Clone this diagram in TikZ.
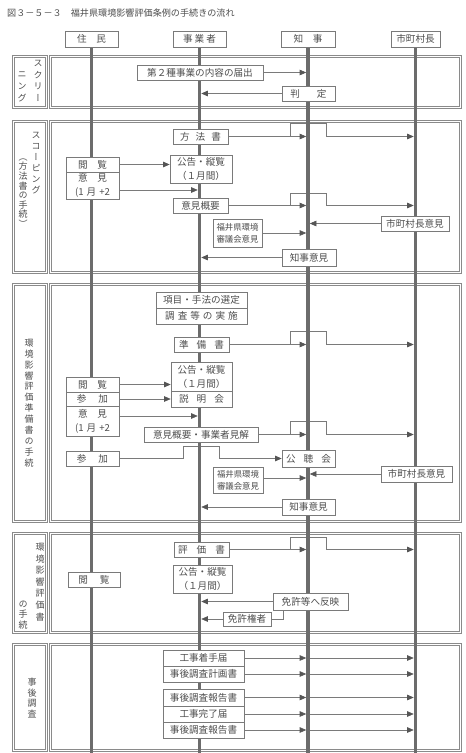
\documentclass[tikz,border=0pt]{standalone}
\usepackage{fontspec}
\setmainfont{Noto Sans CJK JP}
\newfontfamily\vfont[RawFeature={+vert}]{Noto Sans CJK JP}
\usetikzlibrary{arrows.meta}
\definecolor{txt}{HTML}{4E4E4E}
\definecolor{bdr}{HTML}{7A7A7A}
\definecolor{tipc}{HTML}{555555}
\definecolor{life}{HTML}{6C6C6C}
\definecolor{frmc}{HTML}{8A8A8A}
\pgfdeclarelayer{back}
\pgfdeclarelayer{mid}
\pgfsetlayers{back,mid,main}
\newcommand\bxn[7][]{\node[bx,#1,minimum width={#5-#3},minimum height={#6-#4}] (#2) at ({(#3+#5)/2},{(#4+#6)/2}) {#7};}
\newcommand\gp[1]{\hspace{#1pt}}
\newcommand\dfr[4]{\draw[fl] (#1,#2) rectangle (#3,#4); \draw[fl] ({#1+2.2},{#2+2.2}) rectangle ({#3-2.2},{#4-2.2});}
\begin{document}
\begin{tikzpicture}[x=1pt,y=-1pt,
  bx/.style={draw=bdr, line width=0.7pt, fill=white, text=txt, inner sep=0pt,
    font=\fontsize{9.6}{14}\selectfont, align=center},
  sm/.style={font=\fontsize{8.4}{12}\selectfont},
  ln/.style={draw=bdr, line width=0.6pt},
  arr/.style={ln, -{Triangle[length=6.5pt,width=5.5pt,color=tipc]}},
  tol/.style={shorten >=1.8pt},
  lifeline/.style={line width=3.6pt, draw=life},
  fl/.style={draw=frmc, line width=0.6pt},
  lbl/.style={text=txt, inner sep=0pt, align=center}]
\useasboundingbox (0,0) rectangle (466,753);
\begin{pgfonlayer}{back}
\fill[white] (0,0) rectangle (466,753);
\dfr{12}{55}{47}{108}  \dfr{49}{55}{461}{108}
\dfr{12}{120}{47}{273} \dfr{49}{120}{461}{273}
\dfr{12}{283}{47}{522} \dfr{49}{283}{461}{522}
\dfr{12}{532}{47}{633} \dfr{49}{532}{461}{633}
\dfr{12}{643}{47}{751} \dfr{49}{643}{461}{751}
\end{pgfonlayer}
% title
\node[anchor=west, text=txt, inner sep=0pt, font=\fontsize{9.1}{10}\selectfont] (title) at (7,13) {図３－５－３　福井県環境影響評価条例の手続きの流れ};
% section labels
\node[lbl, font=\vfont\fontsize{9}{11.6}\selectfont] (l1a) at (38,81) {ス\\ク\\リ\\ー};
\node[lbl, font=\vfont\fontsize{9}{11.6}\selectfont] (l1b) at (22,87) {ニ\\ン\\グ};
\node[lbl, font=\vfont\fontsize{9}{11}\selectfont] (l2a) at (36,163) {ス\\コ\\ー\\ピ\\ン\\グ};
\node[lbl, font=\vfont\fontsize{9}{9.6}\selectfont] (l2b) at (23,193) {（\\方\\法\\書\\の\\手\\続\\）};
\node[lbl, font=\vfont\fontsize{9}{10.9}\selectfont] (l3) at (29,403) {環\\境\\影\\響\\評\\価\\準\\備\\書\\の\\手\\続};
\node[lbl, font=\vfont\fontsize{9}{11.6}\selectfont] (l4a) at (40,582) {環\\境\\影\\響\\評\\価\\書};
\node[lbl, font=\vfont\fontsize{9}{10.5}\selectfont] (l4b) at (23,615) {の\\手\\続};
\node[lbl, font=\vfont\fontsize{9}{10.4}\selectfont] (l5) at (32,698) {事\\後\\調\\査};
% headers
\bxn{h1}{65}{31}{118}{47}{住　民}
\bxn{h2}{173}{31}{226}{47}{事\gp{2}業\gp{2}者}
\bxn{h3}{281}{31}{335}{47}{知　事}
\bxn{h4}{391}{31}{440}{47}{市町村長}
\coordinate (L1) at (h1.south);
\coordinate (L2) at (h2.south);
\coordinate (L3) at (h3.south);
\coordinate (L4) at (h4.south);
\coordinate (bot) at (0,753);
\coordinate (hL) at (290,0);
\coordinate (hR) at (326,0);
\coordinate (hA) at (183,0);
\coordinate (hB) at (219,0);
\coordinate (rk) at (283,0);
% section 1
\bxn{s1a}{137}{65}{263}{80}{第２種事業の内容の届出}
\bxn{s1b}{282}{86}{335}{101}{判\gp{17}定}
% section 2
\bxn{p1}{173}{129}{228}{144}{方\gp{6}法\gp{6}書}
\bxn{p2a}{66}{157}{119}{172}{閲　覧}
\bxn{p2b}{66}{172}{119}{199}{意　見\\(1\gp{3}月\gp{3}+2}
\bxn{p3}{170}{155}{232}{183}{公告・縦覧\\（１月間）}
\bxn{p4}{173}{198}{228}{213}{意見概要}
\bxn[sm]{p5}{213}{219}{262}{247}{福井県環境\\審議会意見}
\bxn{p6}{381}{216}{449}{231}{市町村長意見}
\bxn{p7}{282}{249}{336}{266}{知事意見}
% section 3
\bxn{q1a}{156}{292}{247}{308}{項目・手法の選定}
\bxn{q1b}{156}{308}{247}{324}{調\gp{3}査\gp{3}等\gp{3}の\gp{3}実\gp{3}施}
\bxn{q2}{174}{337}{229}{352}{準\gp{8}備\gp{8}書}
\bxn{q3a}{171}{362}{232}{391}{公告・縦覧\\（１月間）}
\bxn{q3b}{171}{391}{232}{407}{説\gp{8}明\gp{8}会}
\bxn{q4a}{66}{377}{119}{392}{閲　覧}
\bxn{q4b}{66}{392}{119}{406}{参\gp{12}加}
\bxn{q4c}{66}{406}{119}{436}{意　見\\(1\gp{3}月\gp{3}+2}
\bxn{q5}{144}{427}{258}{442}{意見概要・事業者見解}
\bxn{q6}{66}{451}{119}{466}{参\gp{12}加}
\bxn{q7}{282}{450}{335}{467}{公\gp{8}聴\gp{8}会}
\bxn[sm]{q8}{213}{467}{263}{493}{福井県環境\\審議会意見}
\bxn{q9}{381}{466}{452}{482}{市町村長意見}
\bxn{q10}{282}{499}{335}{515}{知事意見}
% section 4
\bxn{r1}{174}{542}{229}{557}{評\gp{9}価\gp{9}書}
\bxn{r2}{68}{572}{120}{587}{閲\gp{12}覧}
\bxn{r3}{173}{565}{232}{593}{公告・縦覧\\（１月間）}
\bxn{r4}{273}{593}{348}{610}{免許等へ反映}
\bxn{r5}{223}{612}{271}{626}{免許権者}
% section 5
\bxn{t1}{163}{650}{244}{666}{工事着手届}
\bxn{t2}{163}{666}{244}{682}{事後調査計画書}
\bxn{t3}{163}{689}{244}{706}{事後調査報告書}
\bxn{t4}{163}{706}{244}{722}{工事完了届}
\bxn{t5}{163}{722}{244}{738}{事後調査報告書}
% lifelines
\begin{pgfonlayer}{mid}
\foreach \L in {L1,L2,L3,L4} \draw[lifeline] (\L) -- (\L |- bot);
\end{pgfonlayer}
% connectors
\begin{pgfonlayer}{back}
% section 1
\draw[arr,tol] (s1a.east) -- (s1a.east -| L3);
\draw[arr,tol] (s1b.west) -- (s1b.west -| L2);
% section 2
\draw[arr,tol] (p1.east) -- (p1.east -| L3);
\draw[arr,tol] (p1.east -| hL) -- ++(0,-13) -| (p1.east -| hR) -- (p1.east -| L4);
\draw[arr] (p2a.east) -- (p2a.east -| p3.west);
\draw[arr,tol] ([yshift=-4.5pt]p2b.east) -- ([yshift=-4.5pt]p2b.east -| L2);
\draw[arr,tol] (p4.east) -- (p4.east -| L3);
\draw[arr,tol] (p4.east -| hL) -- ++(0,-12.5) -| (p4.east -| hR) -- (p4.east -| L4);
\draw[arr,tol] (p5.east) -- (p5.east -| L3);
\draw[arr,tol] (p6.west) -- (p6.west -| L3);
\draw[arr,tol] (p7.west) -- (p7.west -| L2);
% section 3
\draw[arr,tol] (q2.east) -- (q2.east -| L3);
\draw[arr,tol] (q2.east -| hL) -- ++(0,-13) -| (q2.east -| hR) -- (q2.east -| L4);
\draw[arr] (q4a.east) -- (q4a.east -| q3a.west);
\draw[arr] (q4b.east) -- (q4b.east -| q3b.west);
\draw[arr,tol] ([yshift=5pt]q4c.east) -- ([yshift=5pt]q4c.east -| L2);
\draw[arr,tol] (q5.east) -- (q5.east -| L3);
\draw[arr,tol] (q5.east -| hL) -- ++(0,-13) -| (q5.east -| hR) -- (q5.east -| L4);
\draw[arr] (q6.east) -- (q6.east -| hA) -- ++(0,-12) -| (q6.east -| hB) -- (q7.west);
\draw[arr,tol] ([yshift=2pt]q8.east) -- ([yshift=2pt]q8.east -| L3);
\draw[arr,tol] (q9.west) -- (q9.west -| L3);
\draw[arr,tol] (q10.west) -- (q10.west -| L2);
% section 4
\draw[arr,tol] (r1.east) -- (r1.east -| L3);
\draw[arr,tol] (r1.east -| hL) -- ++(0,-12.5) -| (r1.east -| hR) -- (r1.east -| L4);
\draw[arr,tol] (r4.west) -- (r4.west -| L2);
\draw[arr,tol] (r5.west) -- (r5.west -| L2);
\draw[ln] (r4.south -| rk) |- (r5.east);
% section 5
\foreach \t in {t1,t2,t3,t4,t5}{
  \draw[arr,tol] (\t.east) -- (\t.east -| L3);
  \draw[arr,tol] (\t.east -| L3) -- (\t.east -| L4);
}
\end{pgfonlayer}
\end{tikzpicture}
\end{document}
